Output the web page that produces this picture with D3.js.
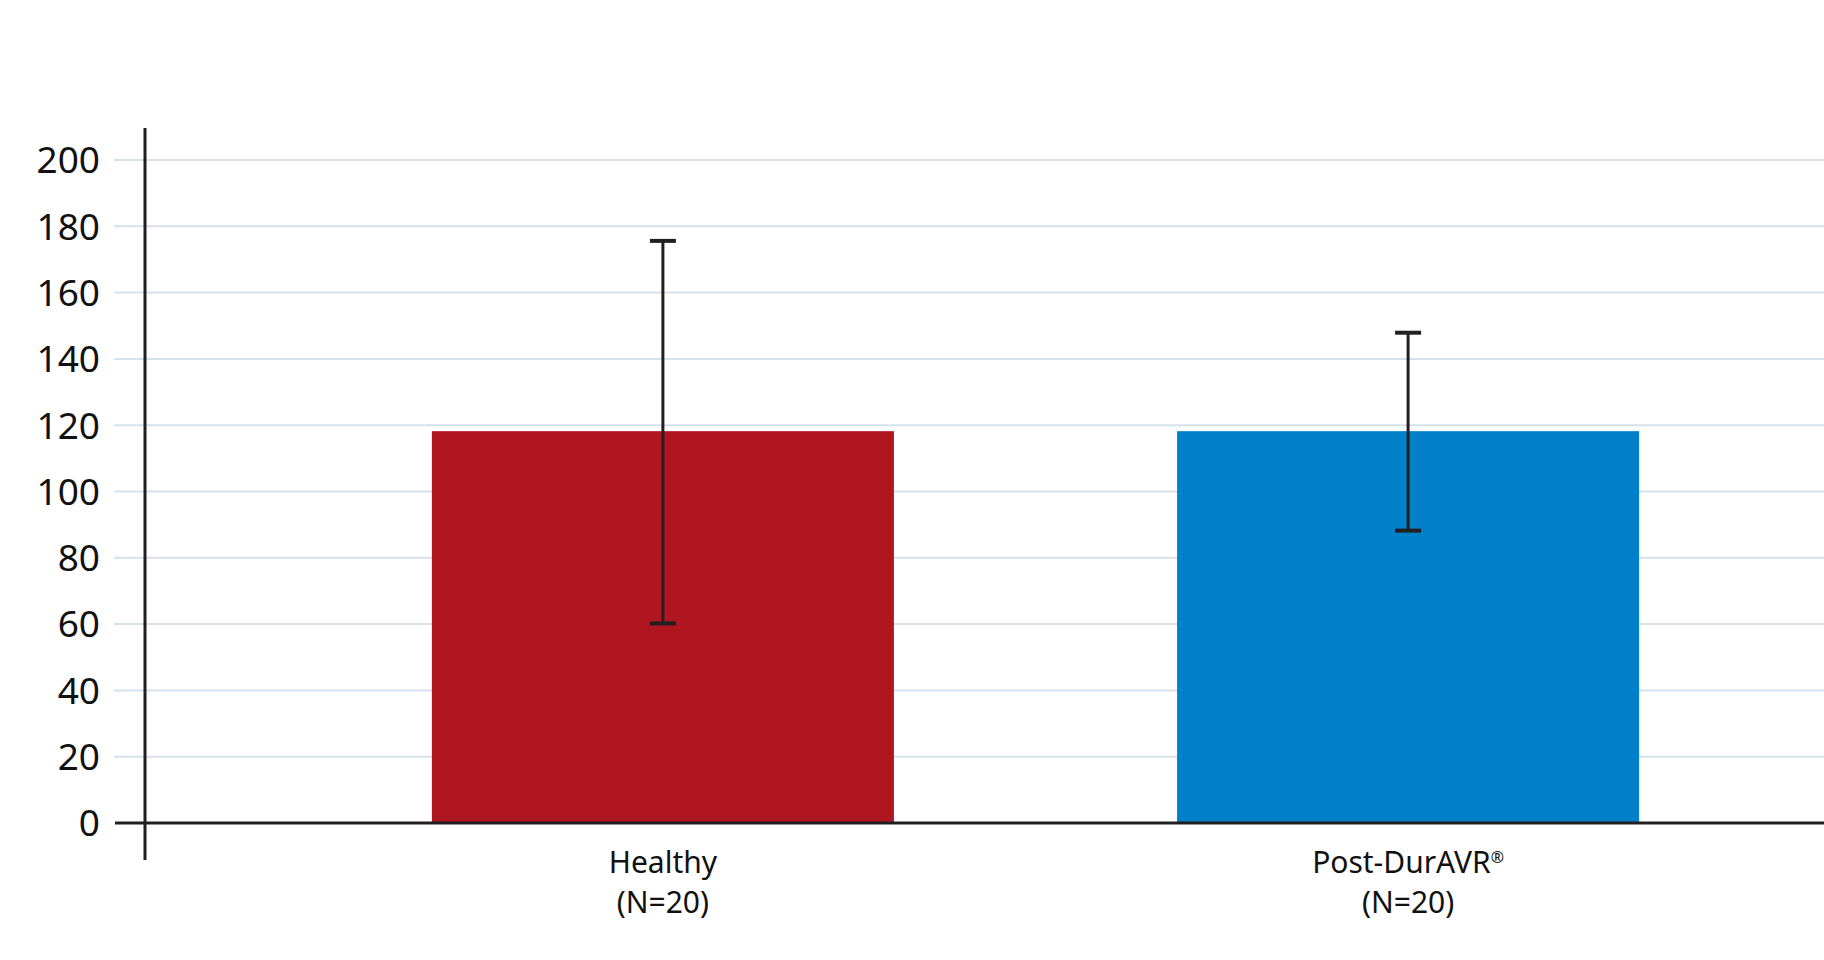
<!DOCTYPE html>
<html>
<head>
<meta charset="utf-8">
<script src="https://cdn.jsdelivr.net/npm/d3@7"></script>
<style>
  body { margin: 0; background: #fff; }
  svg { display: block; font-family: "Noto Sans", "Open Sans", sans-serif; }
</style>
</head>
<body>
<svg id="chart"></svg>
<script>
// data
const groups = ["Healthy", "Post-DurAVR"];
const groupN = ["(N=20)", "(N=20)"];
const means = [118.2, 118.2];
const upper = [175.6, 147.9];
const lower = [60.2, 88.2];
const barColors = ["#af1620", "#0080c9"];
const yTicks = [0, 20, 40, 60, 80, 100, 120, 140, 160, 180, 200];

const width = 1824, height = 960;
const margin = { top: 160, left: 145, bottom: 137 };

const svg = d3.select("#chart")
    .attr("width", width)
    .attr("height", height);

const yScale = d3.scaleLinear()
    .domain([0, 200])
    .range([height - margin.bottom, margin.top]);

// band scale runs past the right edge, like in the original crop
const xScale = d3.scaleBand()
    .domain(groups)
    .range([margin.left, 1926])
    .paddingInner(0.38)
    .paddingOuter(0.385);

// gridlines
svg.append("g")
  .selectAll("line")
  .data(yTicks.filter(d => d > 0))
  .join("line")
    .attr("x1", 114)
    .attr("x2", width)
    .attr("y1", d => yScale(d))
    .attr("y2", d => yScale(d))
    .attr("stroke", "#d6e2ea")
    .attr("stroke-width", 2);

// y tick labels
svg.append("g")
  .selectAll("text")
  .data(yTicks)
  .join("text")
    .attr("x", 100)
    .attr("y", d => yScale(d))
    .attr("dy", "0.36em")
    .attr("text-anchor", "end")
    .attr("font-size", 37)
    .attr("fill", "#111")
    .text(d => d);

// bars
svg.append("g")
  .selectAll("rect")
  .data(groups)
  .join("rect")
    .attr("x", d => xScale(d))
    .attr("width", xScale.bandwidth())
    .attr("y", (d, i) => yScale(means[i]))
    .attr("height", (d, i) => yScale(0) - yScale(means[i]))
    .attr("fill", (d, i) => barColors[i]);

// error bars
const err = svg.append("g")
    .attr("stroke", "#231f20")
    .attr("fill", "none");

groups.forEach((g, i) => {
  let cx = xScale(g) + xScale.bandwidth() / 2;
  err.append("line")
      .attr("x1", cx).attr("x2", cx)
      .attr("y1", yScale(upper[i])).attr("y2", yScale(lower[i]))
      .attr("stroke-width", 3);
  [upper[i], lower[i]].forEach(v => {
    err.append("line")
        .attr("x1", cx - 13).attr("x2", cx + 13)
        .attr("y1", yScale(v)).attr("y2", yScale(v))
        .attr("stroke-width", 4);
  });
});

// axes
svg.append("line")
    .attr("x1", margin.left).attr("x2", margin.left)
    .attr("y1", 128).attr("y2", 860)
    .attr("stroke", "#231f20")
    .attr("stroke-width", 3);

svg.append("line")
    .attr("x1", 115).attr("x2", width)
    .attr("y1", yScale(0)).attr("y2", yScale(0))
    .attr("stroke", "#231f20")
    .attr("stroke-width", 3);

// x labels
const xLab = svg.append("g")
  .selectAll("text")
  .data(groups)
  .join("text")
    .attr("x", d => xScale(d) + xScale.bandwidth() / 2)
    .attr("y", 873)
    .attr("text-anchor", "middle")
    .attr("font-size", 30)
    .attr("fill", "#111");

xLab.append("tspan")
    .text(d => d);
xLab.filter((d, i) => i == 1)
  .append("tspan")
    .attr("font-size", 16)
    .attr("dy", -10)
    .text("®");
xLab.append("tspan")
    .attr("x", d => xScale(d) + xScale.bandwidth() / 2)
    .attr("y", 913)
    .text((d, i) => groupN[i]);
</script>
</body>
</html>
